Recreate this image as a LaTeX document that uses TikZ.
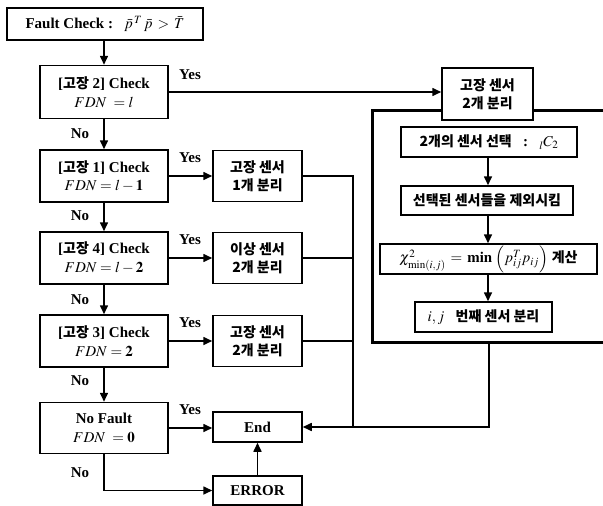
\documentclass[tikz,border=0pt]{standalone}
\usepackage{mathptmx}
\usepackage{fontspec}
\setmainfont{Liberation Serif}
\newfontfamily\kr{Noto Sans CJK KR}
\usetikzlibrary{arrows.meta}
\newcommand{\ko}[1]{{\kr\bfseries\fontsize{14}{17}\selectfont #1}}
\begin{document}
\begin{tikzpicture}[x=1pt,y=-1pt,
  bx/.style={draw,line width=1.5pt,inner sep=0pt,align=center,font=\bfseries\fontsize{15}{18}\selectfont},
  ln/.style={line width=1.6pt},
  arr/.style={line width=1.6pt,-{Triangle[length=9pt,width=8pt]}},
  lab/.style={font=\bfseries\fontsize{15}{17}\selectfont,inner sep=0pt}]
\useasboundingbox (0,0) rectangle (603,506);
% left column
\node[bx,minimum width=196pt,minimum height=32pt] (fc) at (105,24) {Fault Check :\ \ \ $\bar{p}^{\,T}\,\bar{p}\,>\,\bar{T}$};
\node[bx,minimum width=128pt,minimum height=53pt] (c2) at (104,92) {[\ko{고장} 2] Check\\[1pt] $FDN\ =l$};
\node[bx,minimum width=128pt,minimum height=52pt] (c1) at (104,176) {[\ko{고장} 1] Check\\[0pt] $FDN=l-\mathbf{1}$};
\node[bx,minimum width=128pt,minimum height=52pt] (c4) at (104,258) {[\ko{고장} 4] Check\\[1pt] $FDN=l-\mathbf{2}$};
\node[bx,minimum width=128pt,minimum height=52pt] (c3) at (104,341) {[\ko{고장} 3] Check\\[1pt] $FDN=\mathbf{2}$};
\node[bx,minimum width=128pt,minimum height=51pt] (nf) at (104,428) {No Fault\\[1pt] $FDN\ =\mathbf{0}$};
% middle column
\node[bx,minimum width=89pt,minimum height=51pt] (s1) at (257.5,176) {\ko{고장 센서}\\ \ko{1개 분리}};
\node[bx,minimum width=89pt,minimum height=51pt] (s4) at (257.5,258) {\ko{이상 센서}\\ \ko{2개 분리}};
\node[bx,minimum width=89pt,minimum height=51pt] (s3) at (257.5,341) {\ko{고장 센서}\\ \ko{2개 분리}};
\node[bx,minimum width=89pt,minimum height=30pt] (end) at (257.5,427) {End};
\node[bx,minimum width=89pt,minimum height=29pt] (err) at (257.5,490.5) {ERROR};
% right part
\draw[line width=3pt] (372,110) rectangle (640,342);
\node[bx,fill=white,minimum width=91pt,minimum height=52pt] (s2) at (487.5,94) {\ko{고장 센서}\\ \ko{2개 분리}};
\node[bx,minimum width=176pt,minimum height=30pt] (r1) at (489,142) {\ko{2개의 센서 선택}\ \ \ :\ \ \ ${}_{l}C_{2}$};
\node[bx,minimum width=172pt,minimum height=29pt] (r2) at (487,200.5) {\ko{선택된 센서들을 제외시킴}};
\node[bx,minimum width=217pt,minimum height=30pt] (r3) at (488.5,259) {$\chi^{2}_{\min(i,j)}\,=\,\mathbf{min}\,\left(p_{ij}^{T}p_{ij}\right)$ \ko{계산}};
\node[bx,minimum width=137pt,minimum height=30pt] (r4) at (483.5,317) {$i,j$\ \ \ \ko{번째 센서 분리}};
\coordinate (ax) at (488,0);
\coordinate (bus) at (353,0);
\coordinate (bot) at (489,342);
\coordinate (join) at (489,427);
% connectors
\draw[arr] (fc.south -| c2) -- (c2.north);
\draw[arr] (c2.south) -- (c1.north);
\draw[arr] (c1.south) -- (c4.north);
\draw[arr] (c4.south) -- (c3.north);
\draw[arr] (c3.south) -- (nf.north);
\draw[arr] (c2.east) -- (c2.east -| s2.west);
\draw[arr] (c1.east) -- (s1.west);
\draw[arr] (c4.east) -- (s4.west);
\draw[arr] (c3.east) -- (s3.west);
\draw[arr] (nf.east) -- (nf.east -| end.west);
\draw[arr] (nf.south) |- (err.west);
\draw[arr] (err.north) -- (end.south);
\draw[ln] (s1.east) -| (bus |- join);
\draw[ln] (s4.east) -- (s4.east -| bus);
\draw[ln] (s3.east) -- (s3.east -| bus);
\draw[arr] (bot) -- (join) -- (join -| end.east);
\draw[arr] (r1.south -| ax) -- (r2.north -| ax);
\draw[arr] (r2.south -| ax) -- (r3.north -| ax);
\draw[arr] (r3.south -| ax) -- (r4.north -| ax);
% labels
\node[lab] (y2) at (190,75) {Yes};
\node[lab] (y1) at (190,158) {Yes};
\node[lab] (y4) at (190,240) {Yes};
\node[lab] (y3) at (190,323) {Yes};
\node[lab] (y0) at (190,410) {Yes};
\node[lab] (n2) at (80,134) {No};
\node[lab] (n1) at (80,216) {No};
\node[lab] (n4) at (80,300) {No};
\node[lab] (n3) at (80,381) {No};
\node[lab] (n0) at (80,473) {No};
\end{tikzpicture}
\end{document}
